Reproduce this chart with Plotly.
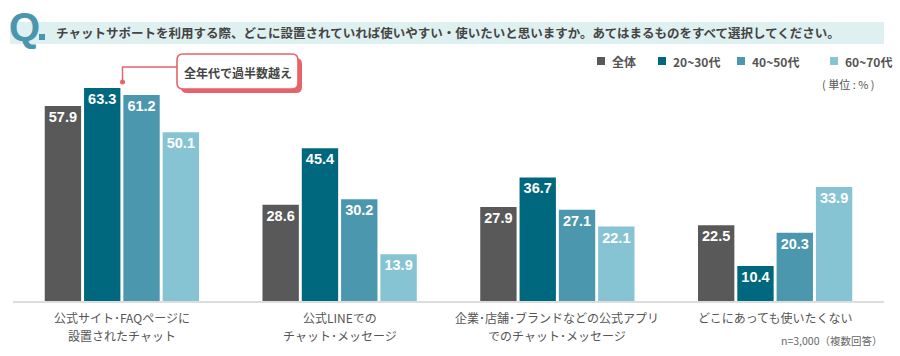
import plotly.graph_objects as go

categories = ["公式サイト･FAQページに<br>設置されたチャット", "公式LINEでの<br>チャット･メッセージ",
              "企業･店舗･ブランドなどの公式アプリ<br>でのチャット･メッセージ", "どこにあっても使いたくない"]
series_names = ["全体", "20~30代", "40~50代", "60~70代"]
series_values = {
    "全体": [57.9, 28.6, 27.9, 22.5],
    "20~30代": [63.3, 45.4, 36.7, 10.4],
    "40~50代": [61.2, 30.2, 27.1, 20.3],
    "60~70代": [50.1, 13.9, 22.1, 33.9],
}
colors = ["#595959", "#00687e", "#4b97ae", "#86c4d3"]
title_text = "チャットサポートを利用する際、どこに設置されていれば使いやすい・使いたいと思いますか。あてはまるものをすべて選択してください。"
callout_text = "全年代で過半数越え"
unit_text = "( 単位 : % )"
note_text = "n=3,000（複数回答）"

W, H = 900, 356
ML, MR, MT, MB = 13, 16, 60, 55
PW = W - ML - MR
PH = H - MT - MB

def px(x):
    return (x - ML) / PW

def py(y):
    return 1 - (y - MT) / PH

FONT = "Noto Sans CJK JP, Liberation Sans, sans-serif"
NUMFONT = "Liberation Sans, Arial, Noto Sans CJK JP, sans-serif"

fig = go.Figure()
for name, col in zip(series_names, colors):
    vals = series_values[name]
    fig.add_trace(go.Bar(
        x=categories, y=vals, name=name, marker=dict(color=col, line=dict(width=0)),
        text=[f"{v:.1f}" for v in vals], textposition="inside", insidetextanchor="end",
        textangle=0, constraintext="none",
        textfont=dict(color="white", size=14.5, family=NUMFONT, weight="bold"),
        hoverinfo="skip", showlegend=False,
    ))

def rrect(x0, y0, x1, y1, r):
    rx = r / PW
    ry = r / PH
    X0, X1 = px(x0), px(x1)
    Y0, Y1 = py(y0), py(y1)
    return (f"M {X0+rx},{Y0} L {X1-rx},{Y0} Q {X1},{Y0} {X1},{Y0-ry} "
            f"L {X1},{Y1+ry} Q {X1},{Y1} {X1-rx},{Y1} "
            f"L {X0+rx},{Y1} Q {X0},{Y1} {X0},{Y1+ry} "
            f"L {X0},{Y0-ry} Q {X0},{Y0} {X0+rx},{Y0} Z")

shapes = []
shapes.append(dict(type="rect", xref="paper", yref="paper", x0=px(10), x1=px(884), y0=py(22), y1=py(44),
                   fillcolor="#dff0f1", line=dict(width=0), layer="below"))
shapes.append(dict(type="rect", xref="paper", yref="paper", x0=px(39), x1=px(45), y0=py(34), y1=py(40),
                   fillcolor="#4a96ae", line=dict(width=0)))
shapes.append(dict(type="path", xref="paper", yref="paper", path=rrect(181, 58, 302, 93, 6),
                   fillcolor="#e8626a", line=dict(width=0)))
shapes.append(dict(type="path", xref="paper", yref="paper", path=rrect(177, 54, 298, 89, 6),
                   fillcolor="white", line=dict(color="#e8626a", width=1.6)))
shapes.append(dict(type="path", xref="paper", yref="paper",
                   path=f"M {px(177)},{py(67)} L {px(122.5)},{py(67)} L {px(122.5)},{py(81)}",
                   line=dict(color="#e8626a", width=1.4)))
shapes.append(dict(type="circle", xref="paper", yref="paper", x0=px(120), x1=px(125), y0=py(79.5), y1=py(84.5),
                   fillcolor="#e8626a", line=dict(width=0)))

annotations = []
annotations.append(dict(text="<b>Q</b>", x=px(7), y=py(27), xref="paper", yref="paper", xanchor="left",
                        yanchor="middle", showarrow=False,
                        font=dict(size=40, color="#4a96ae", family="Liberation Sans, Arial, sans-serif")))
annotations.append(dict(text=f"<b>{title_text}</b>", x=px(54), y=py(33), xref="paper", yref="paper",
                        xanchor="left", yanchor="middle", showarrow=False,
                        font=dict(size=12.5, color="#444444", family=FONT)))
annotations.append(dict(text=f"<b>{callout_text}</b>", x=px(237.5), y=py(72), xref="paper", yref="paper",
                        xanchor="center", yanchor="middle", showarrow=False,
                        font=dict(size=12, color="#444444", family=FONT)))

# category labels (two lines, custom spacing)
for cat in categories:
    lines = cat.split("<br>")
    for i, line in enumerate(lines):
        annotations.append(dict(text=line, x=cat, xref="x", y=py(317 + 18 * i), yref="paper",
                                xanchor="center", yanchor="middle", showarrow=False,
                                font=dict(size=12, color="#555555", family=FONT)))

leg_x = [597, 658, 737, 830]
for name, col, lx in zip(series_names, colors, leg_x):
    shapes.append(dict(type="rect", xref="paper", yref="paper", x0=px(lx), x1=px(lx + 8),
                       y0=py(57), y1=py(65), fillcolor=col, line=dict(width=0)))
    annotations.append(dict(text=f"<b>{name}</b>", x=px(lx + 13), y=py(61), xref="paper", yref="paper",
                            xanchor="left", yanchor="middle", showarrow=False,
                            font=dict(size=12, color="#555555", family=FONT)))
annotations.append(dict(text=unit_text, x=px(876), y=py(84), xref="paper", yref="paper",
                        xanchor="right", yanchor="middle", showarrow=False,
                        font=dict(size=11, color="#555555", family=FONT)))
annotations.append(dict(text=note_text, x=px(884), y=py(340), xref="paper", yref="paper",
                        xanchor="right", yanchor="middle", showarrow=False,
                        font=dict(size=10.5, color="#666666", family=FONT)))

fig.update_layout(
    width=W, height=H, margin=dict(l=ML, r=MR, t=MT, b=MB),
    paper_bgcolor="white", plot_bgcolor="white",
    barmode="group", bargap=0.278, bargroupgap=0.075,
    shapes=shapes, annotations=annotations,
    font=dict(family=FONT),
    xaxis=dict(showgrid=False, zeroline=False, showline=True, linecolor="#dddddd", linewidth=2,
               ticks="", showticklabels=False, fixedrange=True),
    yaxis=dict(range=[0, 71.6], visible=False, showgrid=False, fixedrange=True),
    uniformtext=dict(mode=False),
)

fig.write_html("out.html", config={"displayModeBar": False},
               post_script="document.body.style.margin='0';document.body.style.padding='0';")
